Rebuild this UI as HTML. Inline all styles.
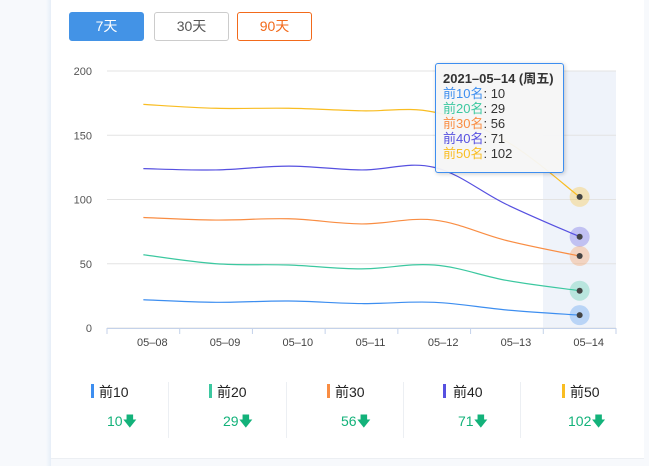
<!DOCTYPE html>
<html><head><meta charset="utf-8"><style>
html,body{margin:0;padding:0;width:649px;height:466px;overflow:hidden;background:#f7f9fc;font-family:"Liberation Sans","Noto Sans CJK SC",sans-serif;}
.card{position:absolute;left:51px;top:0;width:593px;height:458px;background:#fff;border-bottom:1px solid #eceff3;}
.edge{position:absolute;left:46px;top:0;width:5px;height:466px;background:linear-gradient(to right,#f7f9fc,#e6eef8);}
.btn{position:absolute;top:12px;height:29px;width:75px;box-sizing:border-box;border-radius:3px;font-size:14px;line-height:27px;text-align:center;}
.leg{position:absolute;top:382px;font-size:14px;color:#222;}
.bar{position:absolute;top:384px;width:3px;height:14px;}
.val{position:absolute;top:411px;font-size:14px;color:#13b27a;}
.div{position:absolute;top:382px;width:1px;height:56px;background:#eceff3;}
.tip{position:absolute;left:435px;top:63px;width:129px;height:110px;box-sizing:border-box;border:1px solid #3d8ef0;border-radius:3px;background:rgba(246,246,246,.95);box-shadow:1px 1px 4px rgba(0,0,0,.2);font-size:13px;line-height:15px;padding:7px 0 0 7px;color:#333;white-space:nowrap;}
</style></head><body>
<div class="edge"></div>
<div class="card"></div>
<div class="btn" style="left:69px;background:#4393e6;color:#fff;border:1px solid #4393e6;">7天</div>
<div class="btn" style="left:154px;border:1px solid #ccc;color:#555;">30天</div>
<div class="btn" style="left:237px;border:1px solid #f26a1b;color:#f26a1b;">90天</div>
<svg id="s" width="649" height="466" style="position:absolute;left:0;top:0"></svg>
<div class="tip"><b>2021–05–14 (周五)</b><br><span style="color:#3d8ef0">前10名</span>: 10<br><span style="color:#3cc8a0">前20名</span>: 29<br><span style="color:#f98d43">前30名</span>: 56<br><span style="color:#5650e0">前40名</span>: 71<br><span style="color:#f9bd22">前50名</span>: 102</div>
<div class="bar" style="left:91px;background:#3d8ef0"></div><div class="leg" style="left:99px">前10</div><div class="val" style="left:107px">10🡇</div>
<div class="div" style="left:168px"></div>
<div class="bar" style="left:209px;background:#3cc8a0"></div><div class="leg" style="left:217px">前20</div><div class="val" style="left:223px">29🡇</div>
<div class="div" style="left:286px"></div>
<div class="bar" style="left:327px;background:#f98d43"></div><div class="leg" style="left:335px">前30</div><div class="val" style="left:341px">56🡇</div>
<div class="div" style="left:403px"></div>
<div class="bar" style="left:443px;background:#5650e0"></div><div class="leg" style="left:453px">前40</div><div class="val" style="left:458px">71🡇</div>
<div class="div" style="left:520px"></div>
<div class="bar" style="left:562px;background:#f9bd22"></div><div class="leg" style="left:570px">前50</div><div class="val" style="left:568px">102🡇</div>
<script>
var s=document.getElementById('s'),h='';
function Y(v){return 328-v*1.285;}
var x0=107,w=(616-107)/7;
h+='<rect x="543" y="71" width="73" height="257" fill="#eff3fa"/>';
[0,50,100,150,200].forEach(function(v){var y=Y(v);h+='<line x1="107" x2="616" y1="'+y+'" y2="'+y+'" stroke="#e3e3e3"/>';h+='<text x="92" y="'+(y+4)+'" font-size="11" fill="#555" text-anchor="end" font-family="Liberation Sans">'+v+'</text>';});
h+='<line x1="107" x2="616" y1="328.5" y2="328.5" stroke="#c4d2ea"/>';
for(var i=0;i<=7;i++){var x=x0+i*w;h+='<line x1="'+x+'" x2="'+x+'" y1="328" y2="334" stroke="#c4d2ea"/>';}
var d=['05-08','05-09','05-10','05-11','05-12','05-13','05-14'];
d.forEach(function(t,i){h+='<text x="'+(x0+w*(i+.5)+9)+'" y="346" font-size="11" fill="#444" text-anchor="middle" font-family="Liberation Sans">'+t.replace('-','–')+'</text>';});
var S=[['#f9bd22',[174,171,171,169,168,145,102]],['#5650e0',[124,123,126,123,125,96,71]],['#f98d43',[86,84,85,81,84,68,56]],['#3cc8a0',[57,50,49,46,49,37,29]],['#3d8ef0',[22,20,21,19,20,14,10]]];
S.forEach(function(sr){var p=sr[1].map(function(v,i){return [x0+w*(i+.5),Y(v)];});var dd='M'+p[0][0]+','+p[0][1];
for(var i=0;i<p.length-1;i++){var a=p[Math.max(i-1,0)],b=p[i],c=p[i+1],e=p[Math.min(i+2,p.length-1)],k=0.18;
dd+=' C'+(b[0]+(c[0]-a[0])*k)+','+(b[1]+(c[1]-a[1])*k)+' '+(c[0]-(e[0]-b[0])*k)+','+(c[1]-(e[1]-b[1])*k)+' '+c[0]+','+c[1];}
h+='<path d="'+dd+'" fill="none" stroke="'+sr[0]+'" stroke-width="1.2"/>';
var q=p[6];h+='<circle cx="'+q[0]+'" cy="'+q[1]+'" r="10" fill="'+sr[0]+'" opacity="0.3"/><circle cx="'+q[0]+'" cy="'+q[1]+'" r="3" fill="#444"/>';});
s.innerHTML=h;
</script>
</body></html>
